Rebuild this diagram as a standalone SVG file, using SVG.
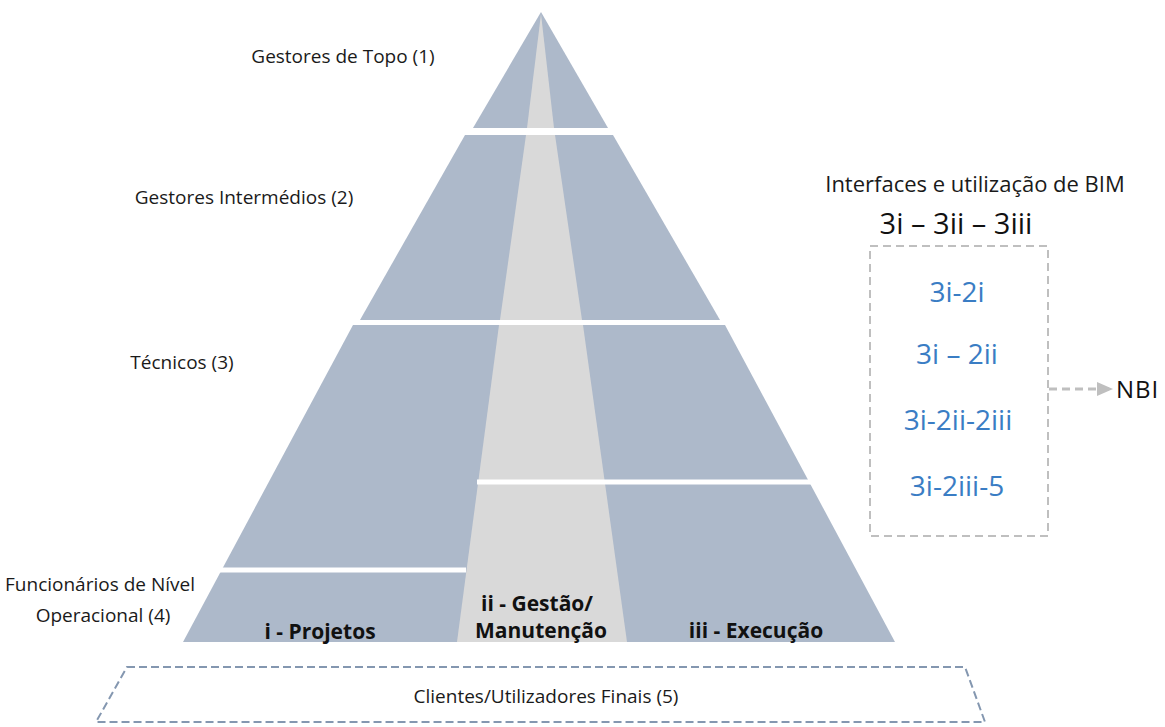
<svg xmlns="http://www.w3.org/2000/svg" width="1165" height="727" viewBox="0 0 1165 727">
  <style>
    .blue { fill: #ADB9CA; }
    .gray { fill: #D9D9D9; }
    .gap { stroke: #FFFFFF; stroke-width: 5; fill: none; }
    .lbl { font-family: "Open Sans", "Liberation Sans", sans-serif; font-size: 19px; fill: #1a1a1a; text-anchor: middle; }
    .bold { font-family: "Open Sans", "Liberation Sans", sans-serif; font-size: 21px; font-weight: bold; fill: #111; text-anchor: middle; }
    .big { font-family: "Open Sans", "Liberation Sans", sans-serif; font-size: 29px; fill: #111; text-anchor: middle; }
    .bluetxt { font-family: "Open Sans", "Liberation Sans", sans-serif; font-size: 28px; fill: #3A7DC4; text-anchor: middle; }
  </style>
  <defs>
    <marker id="arr" markerWidth="16" markerHeight="14" refX="16" refY="7" orient="auto" markerUnits="userSpaceOnUse" viewBox="0 0 16 14">
      <path d="M0,0 L16,7 L0,14 Z" fill="#BFBFBF"/>
    </marker>
  </defs>

  <g id="pyramid">
    <g id="level1">
      <polygon class="blue" points="541,12 608,128 473,128"/>
      <polygon class="gray" points="541,14 554,128 527,128"/>
    </g>
    <g id="level2">
      <polygon class="blue" points="465,135 613,135 720,320 360,320"/>
      <polygon class="gray" points="526,135 555,135 582,320 500,320"/>
    </g>
    <g id="level3-4">
      <polygon class="blue" points="353,325 725,325 895,642 183,642"/>
      <polygon class="gray" points="499,325 583,325 627,642 457,642"/>
    </g>
    <line class="gap" x1="470" y1="131.5" x2="612" y2="131.5"/>
    <line class="gap" x1="350" y1="322.5" x2="728" y2="322.5"/>
    <line class="gap" stroke-width="4" x1="477" y1="482" x2="812" y2="482"/>
    <line class="gap" stroke-width="4" x1="216" y1="570" x2="466" y2="570"/>
  </g>

  <g id="labels-levels">
    <text class="lbl" x="343" y="63">Gestores de Topo (1)</text>
    <text class="lbl" x="244" y="204">Gestores Intermédios (2)</text>
    <text class="lbl" x="182" y="369">Técnicos (3)</text>
    <text class="lbl" x="100" y="591">Funcionários de Nível</text>
    <text class="lbl" x="103" y="622">Operacional (4)</text>
  </g>

  <g id="labels-columns">
    <text class="bold" x="320" y="639">i - Projetos</text>
    <text class="bold" x="537" y="611">ii - Gestão/</text>
    <text class="bold" x="541" y="638">Manutenção</text>
    <text class="bold" x="756" y="638">iii - Execução</text>
  </g>

  <g id="clients">
    <polygon points="127,667 965,667 985,722 96,722" fill="none" stroke="#8497B0" stroke-width="2" stroke-dasharray="8,4"/>
    <text class="lbl" x="546" y="703">Clientes/Utilizadores Finais (5)</text>
  </g>

  <g id="interfaces">
    <text class="lbl" x="975" y="192" style="font-size:22px">Interfaces e utilização de BIM</text>
    <text class="big" x="956" y="234">3i – 3ii – 3iii</text>
    <rect x="870" y="246" width="178" height="290" fill="none" stroke="#BFBFBF" stroke-width="2" stroke-dasharray="8,5"/>
    <text class="bluetxt" x="957" y="302">3i-2i</text>
    <text class="bluetxt" x="957" y="364">3i – 2ii</text>
    <text class="bluetxt" x="958" y="430">3i-2ii-2iii</text>
    <text class="bluetxt" x="957" y="496">3i-2iii-5</text>
  </g>

  <g id="connectors">
    <line x1="1049" y1="389" x2="1113" y2="389" stroke="#BFBFBF" stroke-width="3" stroke-dasharray="8,5" marker-end="url(#arr)"/>
  </g>

  <g id="nbi">
    <text class="big" x="1116" y="398" style="text-anchor:start;font-size:24px" letter-spacing="1">NBI</text>
  </g>
</svg>
